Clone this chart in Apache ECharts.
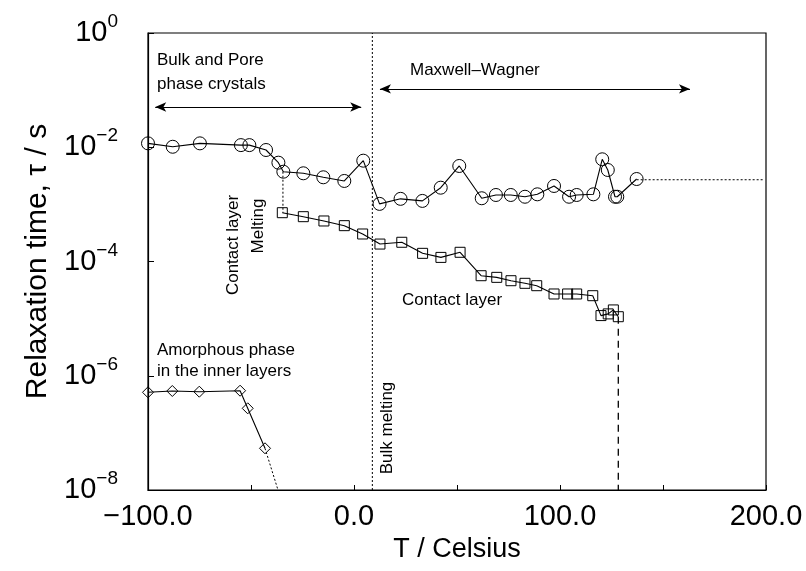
<!DOCTYPE html>
<html>
<head>
<meta charset="utf-8">
<script src="https://cdn.jsdelivr.net/npm/echarts@6/dist/echarts.min.js"></script>
<style>
  html, body { margin: 0; background: #fff; }
  #chart { width: 806px; height: 571px; }
</style>
</head>
<body>
<div id="chart"></div>
<script>
// Maxwell-Wagner / bulk + pore crystals (circles)
const circleT = [-100, -88, -74.8, -54.9, -50.8, -42.7, -36.7, -34.3, -24.6, -14.9, -4.7, 4.5,
  12.4, 22.6, 33.2, 42.1, 51.1, 62.0, 68.9, 76.1, 83.0, 89.0, 97.1, 104.4, 108.1, 116.2,
  120.5, 123.2, 126.7, 127.8, 137.2]
const circleTau = [1.17e-2, 1.02e-2, 1.17e-2, 1.09e-2, 1.09e-2, 8.95e-3, 5.37e-3, 3.73e-3, 3.5e-3,
  2.98e-3, 2.57e-3, 5.82e-3, 1.02e-3, 1.25e-3, 1.15e-3, 1.96e-3, 4.7e-3, 1.28e-3, 1.46e-3,
  1.46e-3, 1.36e-3, 1.5e-3, 2.1e-3, 1.36e-3, 1.46e-3, 1.5e-3, 6.15e-3, 4.0e-3, 1.36e-3,
  1.36e-3, 2.78e-3]

// contact layer (squares)
const squareT = [-34.8, -24.6, -14.6, -4.7, 4.2, 12.6, 23.2, 33.3, 42.2, 51.5, 61.7, 69.3, 76.2,
  83.0, 88.7, 97.1, 103.7, 108.1, 115.9, 119.9, 123.4, 125.9, 128.3]
const squareTau = [7.15e-4, 6.09e-4, 5.12e-4, 4.24e-4, 3.03e-4, 2.02e-4, 2.17e-4, 1.39e-4, 1.18e-4,
  1.45e-4, 5.64e-5, 5.28e-5, 4.61e-5, 4.15e-5, 3.77e-5, 2.7e-5, 2.7e-5, 2.7e-5, 2.52e-5,
  1.13e-5, 1.21e-5, 1.42e-5, 1.08e-5]

// amorphous phase (diamonds)
const diamondT = [-100, -88.2, -75.1, -55.3, -51.6, -43.2]
const diamondTau = [5.13e-7, 5.41e-7, 5.26e-7, 5.47e-7, 2.69e-7, 5.37e-8]

// guide lines
const bulkMeltT = [8.9, 8.9], bulkMeltTau = [1e-8, 1]
const contactMeltT = [-34.5, -34.5], contactMeltTau = [3.73e-3, 7.15e-4]
const mwTailT = [137.2, 199], mwTailTau = [2.7e-3, 2.7e-3]
const amTailT = [-43.2, -36.9], amTailTau = [5.37e-8, 1e-8]
const clDropT = [128.3, 128.3], clDropTau = [1.08e-5, 1e-8]

// double arrows
const arrowPoreT = [-96.5, 3.5], arrowPoreTau = 5.07e-2
const arrowMwT = [12.6, 163.1], arrowMwTau = 0.105

const xTicks = [-100, 0, 100, 200]
const yDecades = [-8, -6, -4, -2, 0]
const FONT = "'Liberation Sans', Arial, Helvetica, sans-serif"

// y axis is drawn in log10(tau)
const lg = v => Math.log10(v)
const pairs = (xs, ys) => xs.map((x, i) => [x, lg(ys[i])])

function markerSeries(t, tau, symbol, size) {
  return {
    type: 'line', data: pairs(t, tau), symbol, symbolSize: size, showAllSymbol: true,
    lineStyle: { color: '#000', width: 1.1 },
    itemStyle: { color: 'transparent', borderColor: '#000', borderWidth: 1 },
    emphasis: { disabled: true }, silent: true, z: 3
  }
}

function guideSeries(t, tau, dash, width) {
  return {
    type: 'line', data: pairs(t, tau), symbol: 'none',
    lineStyle: { color: '#000', width: width || 1, type: dash },
    emphasis: { disabled: true }, silent: true, z: 2
  }
}

function annot(text, x, y, rotated) {
  return {
    type: 'text', x, y, rotation: rotated ? Math.PI / 2 : 0,
    style: {
      text, fill: '#000', fontSize: 17, fontFamily: FONT,
      align: rotated ? 'center' : 'left', verticalAlign: 'middle'
    }
  }
}

const chart = echarts.init(document.getElementById('chart'))

const arrows = guideSeries(bulkMeltT, bulkMeltTau, [2, 2])
arrows.markLine = {
  silent: true, symbol: ['arrow', 'arrow'], symbolSize: [7, 11],
  label: { show: false }, emphasis: { disabled: true }, animation: false,
  lineStyle: { color: '#000', width: 1.1, type: 'solid' },
  data: [
    [{ coord: [arrowPoreT[0], lg(arrowPoreTau)] }, { coord: [arrowPoreT[1], lg(arrowPoreTau)] }],
    [{ coord: [arrowMwT[0], lg(arrowMwTau)] }, { coord: [arrowMwT[1], lg(arrowMwTau)] }]
  ]
}

chart.setOption({
  animation: false,
  backgroundColor: '#fff',
  grid: { left: 148, right: 40, top: 33, bottom: 81, show: true, borderColor: '#000', borderWidth: 1.2 },
  xAxis: {
    type: 'value', min: -100, max: 200, interval: 50,
    name: 'T / Celsius', nameLocation: 'middle', nameGap: 44,
    nameTextStyle: { color: '#000', fontSize: 27, fontFamily: FONT },
    axisLine: { onZero: false, lineStyle: { color: '#000', width: 1.2 } },
    axisTick: { inside: true, length: 5, lineStyle: { color: '#000' } },
    splitLine: { show: false },
    axisLabel: {
      color: '#000', fontSize: 29, fontFamily: FONT, margin: 12,
      formatter: v => xTicks.includes(v) ? (v < 0 ? '\u2212' : '') + Math.abs(v).toFixed(1) : ''
    }
  },
  yAxis: {
    type: 'value', min: yDecades[0], max: yDecades[yDecades.length - 1], interval: 2,
    name: 'Relaxation time, \u03c4 / s', nameLocation: 'middle', nameGap: 90,
    nameTextStyle: { color: '#000', fontSize: 30, fontFamily: FONT },
    axisLine: { onZero: false, lineStyle: { color: '#000', width: 1.2 } },
    axisTick: { inside: true, length: 6, lineStyle: { color: '#000' } },
    splitLine: { show: false },
    axisLabel: {
      margin: 30, showMinLabel: true, showMaxLabel: true,
      formatter: v => '{b|10}{e|' + (v < 0 ? '\u2212' + (-v) : v) + '}',
      rich: {
        b: { color: '#000', fontSize: 29, fontFamily: FONT, lineHeight: 32 },
        e: { color: '#000', fontSize: 19, fontFamily: FONT, lineHeight: 20, padding: [0, 0, 22, 0] }
      }
    }
  },
  series: [
    arrows,
    guideSeries(contactMeltT, contactMeltTau, [2, 2]),
    guideSeries(mwTailT, mwTailTau, [2, 2]),
    guideSeries(amTailT, amTailTau, [2, 2]),
    guideSeries(clDropT, clDropTau, [7, 5], 1.3),
    markerSeries(circleT, circleTau, 'circle', 13),
    markerSeries(squareT, squareTau, 'rect', 10),
    markerSeries(diamondT, diamondTau, 'diamond', 11)
  ],
  graphic: [
    annot('Bulk and Pore', 157, 60),
    annot('phase crystals', 157, 84),
    annot('Maxwell\u2013Wagner', 410, 70),
    annot('Contact layer', 233, 245, true),
    annot('Melting', 258, 226, true),
    annot('Contact layer', 402, 300),
    annot('Amorphous phase', 157, 350),
    annot('in the inner layers', 157, 371),
    annot('Bulk melting', 387, 428, true)
  ]
})
</script>
</body>
</html>
